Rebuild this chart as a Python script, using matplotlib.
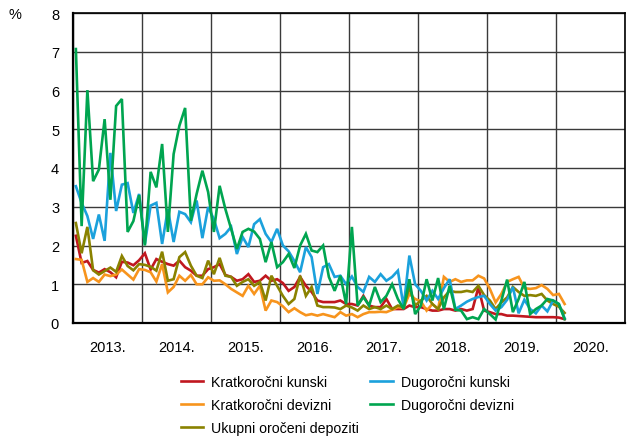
import numpy as np
import matplotlib
matplotlib.use('Agg')
import matplotlib.pyplot as plt

plt.rcParams['font.family'] = ['Liberation Sans', 'DejaVu Sans']

# monthly averages, Jan 2013 - Feb 2020 (%)
kratk_kunski = [2.25, 1.55, 1.6, 1.37, 1.3, 1.39, 1.31, 1.18, 1.58, 1.56, 1.49, 1.62,
                1.8, 1.38, 1.65, 1.58, 1.52, 1.48, 1.61, 1.44, 1.35, 1.22, 1.22, 1.39,
                1.44, 1.52, 1.24, 1.19, 1.09, 1.13, 1.26, 1.06, 1.09, 1.22, 1.09, 1.13,
                1.03, 0.83, 0.93, 1.19, 0.96, 0.8, 0.58, 0.54, 0.54, 0.54, 0.58, 0.49,
                0.49, 0.45, 0.7, 0.45, 0.41, 0.41, 0.62, 0.36, 0.36, 0.36, 0.45, 0.41,
                0.41, 0.36, 0.32, 0.32, 0.36, 0.36, 0.32, 0.36, 0.32, 0.36, 0.92, 0.32,
                0.28, 0.23, 0.23, 0.19, 0.19, 0.18, 0.17, 0.16, 0.15, 0.15, 0.15, 0.15,
                0.14, 0.1]
kratk_devizni = [1.65, 1.63, 1.06, 1.16, 1.06, 1.25, 1.21, 1.25, 1.38, 1.25, 1.12, 1.39,
                 1.37, 1.31, 1.07, 1.52, 0.79, 0.93, 1.22, 1.09, 1.24, 1.0, 1.0, 1.18,
                 1.09, 1.1, 1.0, 0.88, 0.79, 0.7, 0.96, 0.75, 0.96, 0.32, 0.58, 0.54,
                 0.43, 0.28, 0.38, 0.28, 0.2, 0.23, 0.19, 0.23, 0.19, 0.15, 0.28, 0.19,
                 0.23, 0.15, 0.23, 0.28, 0.28, 0.29, 0.28, 0.34, 0.41, 0.39, 0.75, 0.62,
                 0.56, 0.32, 0.49, 0.36, 1.19, 1.06, 1.13, 1.06, 1.1, 1.1, 1.22, 1.15,
                 0.88, 0.53, 0.75, 1.06, 1.13, 1.19, 0.9, 0.88, 0.9, 0.98, 0.88, 0.72,
                 0.75, 0.49]
ukupni = [2.58, 1.8, 2.48, 1.36, 1.25, 1.34, 1.43, 1.32, 1.73, 1.47, 1.36, 1.52,
          1.5, 1.45, 1.35, 1.84, 1.09, 1.13, 1.7, 1.83, 1.48, 1.22, 1.16, 1.61,
          1.26, 1.68, 1.22, 1.19, 0.96, 1.06, 1.13, 0.96, 1.06, 0.58, 1.22, 0.96,
          0.7, 0.49, 0.62, 1.22, 0.7, 0.93, 0.45, 0.41, 0.41, 0.4, 0.36, 0.45,
          0.4, 0.32, 0.45, 0.36, 0.41, 0.36, 0.45, 0.36, 0.45, 0.41, 0.93, 0.45,
          0.58, 0.7, 0.49, 0.36, 0.66, 0.83, 0.8, 0.8, 0.83, 0.8, 0.96, 0.72,
          0.58, 0.36, 0.53, 0.66, 0.93, 0.8, 0.7, 0.72, 0.7, 0.75, 0.58, 0.49,
          0.42, 0.26]
dug_kunski = [3.53, 3.1, 2.76, 2.17, 2.8, 2.12, 4.39, 2.89, 3.57, 3.61, 2.84, 3.33,
              2.04, 3.03, 3.1, 2.04, 2.94, 2.09, 2.87, 2.81, 2.6, 3.16, 2.19, 2.99,
              2.68, 2.19, 2.3, 2.48, 1.78, 2.22, 1.96, 2.55, 2.68, 2.3, 2.09, 2.43,
              2.0, 1.85, 1.6, 1.31, 1.96, 1.7, 0.75, 1.44, 1.52, 1.19, 1.22, 1.0,
              1.2, 0.93, 0.8, 1.19, 1.06, 1.26, 1.09, 1.19, 1.35, 0.41, 1.74, 1.0,
              0.83, 0.58, 0.83, 0.62, 0.9, 1.13, 0.36, 0.45, 0.55, 0.62, 0.67, 0.7,
              0.49, 0.32, 0.41, 0.6, 0.93, 0.25, 0.6, 0.36, 0.25, 0.45, 0.3, 0.58,
              0.49, 0.12]
dug_devizni = [7.07, 2.5, 6.01, 3.66, 3.96, 5.26, 3.18, 5.6, 5.78, 2.35, 2.63, 3.3,
               2.0, 3.9, 3.5, 4.62, 2.35, 4.36, 5.09, 5.55, 2.64, 3.33, 3.93, 3.38,
               2.35, 3.54, 2.94, 2.43, 1.91, 2.35, 2.43, 2.36, 2.17, 1.57, 2.09, 1.44,
               1.57, 1.78, 1.42, 2.0, 2.3, 1.87, 1.83, 2.0, 1.19, 0.83, 1.22, 0.49,
               2.48, 0.45, 0.67, 0.45, 0.93, 0.54, 0.7, 1.0, 0.62, 0.36, 1.13, 0.23,
               0.45, 1.13, 0.58, 1.16, 0.36, 0.96, 0.34, 0.32, 0.1, 0.15, 0.1, 0.36,
               0.23, 0.09, 0.58, 1.12, 0.28, 0.62, 1.06, 0.23, 0.36, 0.45, 0.62, 0.58,
               0.49, 0.1]

labels = ['Kratkoročni kunski', 'Kratkoročni devizni', 'Ukupni oročeni depoziti',
          'Dugoročni kunski', 'Dugoročni devizni']
colors = ['#C0171F', '#F7941D', '#8A8200', '#1BA1DC', '#00A550']
years = list(range(2013, 2021))

n = len(kratk_kunski)
x = 2013 + (np.arange(n) + 0.5) / 12.0

fig = plt.figure(figsize=(6.28, 4.39), dpi=100)
ax = fig.add_axes([73 / 628, 115 / 439, 552 / 628, 310 / 439])

series = [kratk_kunski, kratk_devizni, ukupni, dug_kunski, dug_devizni]
for vals, lab, col in zip(series, labels, colors):
    ax.plot(x, vals, color=col, lw=1.9, label=lab, solid_joinstyle='miter')

ax.set_xlim(2013, 2021)
ax.set_ylim(0, 8)
ax.set_yticks(range(0, 9))
ax.set_xticks(range(2013, 2022))
ax.set_xticklabels([])
ax.set_xticks([y + 0.5 for y in years], minor=True)
ax.set_xticklabels([f'{y}.' for y in years], minor=True)
ax.tick_params(axis='both', which='both', length=0, labelsize=10.5, colors='black')
ax.tick_params(axis='x', which='minor', pad=12)
ax.tick_params(axis='y', pad=10)
ax.grid(True, which='major', color='#3a3a3a', lw=1)
ax.set_axisbelow(True)
for s in ax.spines.values():
    s.set_color('black')
    s.set_linewidth(1.2)
ax.spines['left'].set_linewidth(1.6)
ax.spines['bottom'].set_linewidth(1.6)

fig.text(15 / 628, 1 - 15 / 439, '%', fontsize=10.5, ha='center', va='center')

fig.legend(loc='upper center', bbox_to_anchor=(0.553, 0.172), ncol=2, frameon=False,
           fontsize=10.2, handlelength=1.6, handletextpad=0.55, columnspacing=0.8,
           labelspacing=0.62)

plt.savefig('out.png', dpi=100)
